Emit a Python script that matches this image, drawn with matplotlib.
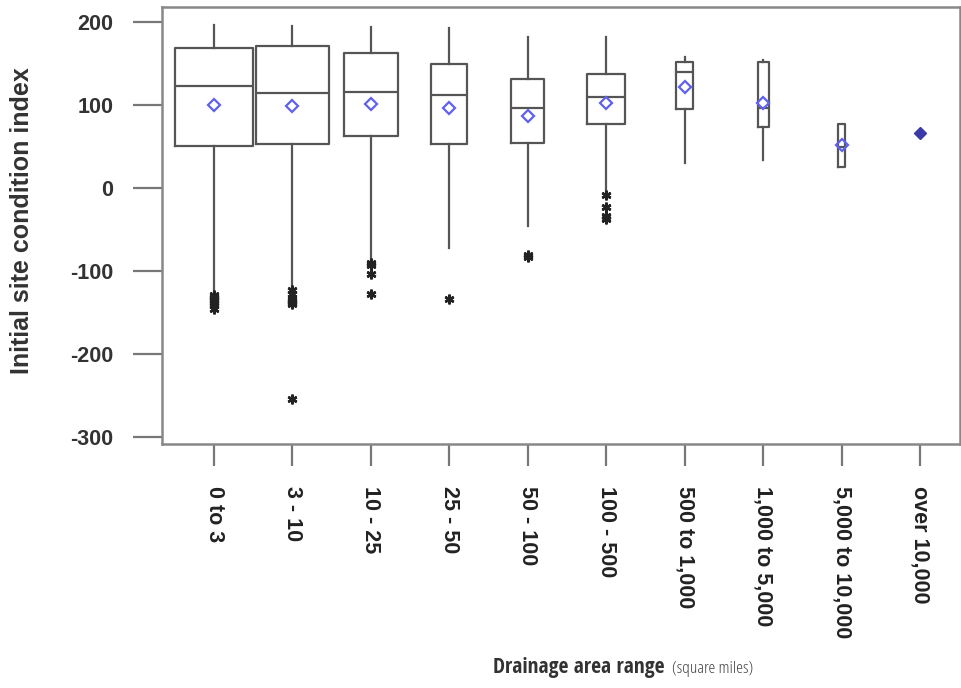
import matplotlib
matplotlib.use("Agg")
import matplotlib.pyplot as plt

labels = ["0 to 3", "3 - 10", "10 - 25", "25 - 50", "50 - 100", "100 - 500",
          "500 to 1,000", "1,000 to 5,000", "5,000 to 10,000", "over 10,000"]
q1 = [51, 53, 63, 53, 54, 77, 95, 74, 25, 66]
med = [123, 115, 116, 112, 97, 110, 140, 97, 50, 66]
q3 = [169, 171, 163, 149, 131, 137, 152, 152, 77, 66]
whislo = [-127, -123, -87, -72, -45, -3, 30, 34, 25, 66]
whishi = [197, 195, 194, 193, 182, 182, 158, 154, 77, 66]
means = [100, 99, 101, 96, 87, 103, 122, 103, 52, 66]
box_widths = [1.0, 0.92, 0.68, 0.46, 0.42, 0.48, 0.22, 0.14, 0.09, 0.0]
outliers = [
    [-129, -131, -133, -135, -138, -141, -145],
    [-123, -127, -133, -136, -138, -140, -254],
    [-90, -93, -103, -127],
    [-134],
    [-81, -83],
    [-8, -23, -33, -37],
    [], [], [], [],
]
yticks = [-300, -200, -100, 0, 100, 200]

fig = plt.figure(figsize=(9.62, 6.88), dpi=100)
ax = fig.add_axes([0.1684, 0.3547, 0.8295, 0.635])

stats = []
for i in range(len(labels)):
    stats.append(dict(q1=q1[i], med=med[i], q3=q3[i], whislo=whislo[i],
                      whishi=whishi[i], mean=means[i], fliers=outliers[i],
                      label=labels[i]))

positions = list(range(1, len(labels) + 1))
lc = "#555555"
ax.bxp(stats[:9], positions=positions[:9], widths=box_widths[:9],
       showcaps=False, showmeans=False, showfliers=True,
       boxprops=dict(color=lc, linewidth=1.6),
       whiskerprops=dict(color=lc, linewidth=1.6),
       medianprops=dict(color=lc, linewidth=1.6),
       flierprops=dict(marker=(6, 2, 0), markersize=7, markeredgecolor="#222222",
                       markeredgewidth=1.8, linestyle="none"))

ax.plot(positions[:9], means[:9], linestyle="none", marker="D", markersize=6,
        markerfacecolor="none", markeredgecolor="#6060f0", markeredgewidth=1.6, zorder=5)
ax.plot(positions[9:], means[9:], linestyle="none", marker="D", markersize=6,
        markerfacecolor="#3a3aa8", markeredgecolor="#3a3aa8", zorder=5)

ax.set_xlim(0.337, 10.51)
ax.set_ylim(-308, 218)
ax.set_xticks(positions)
ax.set_xticklabels(labels, rotation=270, fontsize=15.5, fontweight="bold",
                   color="#222222", family=["Liberation Sans", "DejaVu Sans"])
ax.set_yticks(yticks)
ax.set_yticklabels([str(v) for v in yticks], fontsize=15.5,
                   fontweight="bold", color="#333333", family=["Liberation Sans", "DejaVu Sans"])
ax.tick_params(axis="y", length=21, width=1.6, color="#777777", pad=14)
ax.tick_params(axis="x", length=16, width=1.6, color="#777777", pad=14)
for s in ax.spines.values():
    s.set_color("#888888")
    s.set_linewidth(1.8)

fig.text(0.023, 0.68, "Initial site condition index", rotation=90, ha="center",
         va="center", fontsize=18, fontweight="bold", color="#333333",
         family=["Liberation Sans", "DejaVu Sans"])

fig.text(665 / 962, 0.0218, "Drainage area range", ha="right", va="baseline",
         fontsize=15.5, fontweight=700, color="#333333",
         family=["Open Sans Condensed", "DejaVu Sans"])
fig.text(672 / 962, 0.0218, "(square miles)", ha="left", va="baseline",
         fontsize=12.5, fontweight=300, fontstretch="condensed", color="#444444",
         family=["Open Sans", "DejaVu Sans"])

fig.savefig("out.png", dpi=100)
